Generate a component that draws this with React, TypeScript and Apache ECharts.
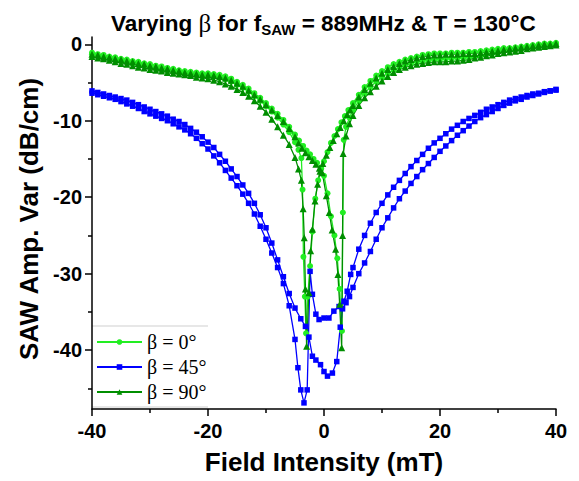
import React, { useEffect, useRef } from "react";
import * as echarts from "echarts";

// Field grid (mT) for the outer arms of each hysteresis loop
const FIELD_LEFT = [-40, -39, -38, -37, -36, -35, -34, -33, -32, -31, -30, -29, -28, -27, -26, -25, -24, -23, -22, -21, -20, -19, -18, -17, -16, -15, -14, -13, -12, -11, -10, -9, -8, -7, -6, -5];
const FIELD_RIGHT = [5, 6, 7, 8, 9, 10, 11, 12, 13, 14, 15, 16, 17, 18, 19, 20, 21, 22, 23, 24, 25, 26, 27, 28, 29, 30, 31, 32, 33, 34, 35, 36, 37, 38, 39, 40];

// ---- beta = 0 deg (light green, circles)
const B0_LEFT_LOWER = [-1.3, -1.5, -1.7, -1.8, -2.0, -2.2, -2.3, -2.5, -2.7, -2.8, -3.0, -3.1, -3.3, -3.4, -3.5, -3.7, -3.8, -3.9, -4.0, -4.1, -4.1, -4.2, -4.4, -4.6, -4.9, -5.3, -5.7, -6.2, -6.8, -7.4, -8.1, -8.8, -9.6, -10.5, -11.5, -12.8];
const B0_CENTER_UP = [[-4.4, -13.8], [-3.9, -14.9], [-3.7, -19], [-3.55, -27.8], [-3.3, -33], [-3.1, -37.8], [-2.8, -33], [-2.4, -29.0], [-2.0, -24.5], [-1.5, -20.2], [-1.0, -17.8], [-0.5, -16.3], [0, -15.3], [0.6, -14.1], [1.2, -12.9], [1.8, -12.0], [2.4, -11.1], [3.0, -10.2], [3.6, -9.4], [4.2, -8.6]];
const B0_RIGHT_UPPER = [-7.7, -6.6, -5.6, -4.8, -4.1, -3.5, -3.0, -2.6, -2.3, -2.0, -1.8, -1.6, -1.4, -1.3, -1.2, -1.2, -1.2, -1.1, -1.1, -1.1, -1.0, -1.0, -0.9, -0.8, -0.7, -0.6, -0.5, -0.5, -0.4, -0.3, -0.2, -0.1, 0.0, 0.1, 0.1, 0.2];
const B0_RIGHT_LOWER = [-8.6, -7.4, -6.4, -5.6, -4.9, -4.3, -3.8, -3.4, -3.0, -2.7, -2.5, -2.3, -2.2, -2.1, -2.0, -2.0, -1.9, -1.9, -1.8, -1.8, -1.7, -1.6, -1.5, -1.3, -1.2, -1.0, -0.9, -0.8, -0.7, -0.6, -0.5, -0.4, -0.3, -0.2, -0.1, 0.0];
const B0_CENTER_DOWN = [[4.4, -9.6], [3.8, -10.8], [3.4, -12.5], [3.25, -22], [3.1, -37.5], [2.7, -32], [2.3, -28], [1.8, -25], [1.2, -22.5], [0.6, -19.5], [0, -17.2], [-0.5, -16.2], [-1.2, -15.5], [-1.8, -15.0], [-2.4, -14.4], [-3.0, -13.9], [-3.6, -13.3], [-4.3, -12.6]];
const B0_LEFT_UPPER = [-1.1, -1.3, -1.4, -1.6, -1.7, -1.9, -2.0, -2.2, -2.3, -2.5, -2.6, -2.8, -2.9, -3.1, -3.2, -3.4, -3.5, -3.6, -3.7, -3.8, -3.8, -3.9, -4.0, -4.2, -4.5, -4.9, -5.3, -5.8, -6.4, -7.0, -7.7, -8.4, -9.1, -9.9, -10.8, -11.8];

// ---- beta = 45 deg (blue, squares)
const B45_LEFT_LOWER = [-6.4, -6.6, -6.8, -7.0, -7.2, -7.5, -7.8, -8.1, -8.4, -8.8, -9.1, -9.4, -9.7, -10.0, -10.4, -10.8, -11.2, -11.7, -12.3, -13.0, -13.7, -14.6, -15.5, -16.5, -17.5, -18.5, -19.6, -20.8, -22.2, -23.8, -25.5, -27.3, -29.2, -31.3, -34.2, -38.6];
const B45_CENTER_UP = [[-4.5, -42.3], [-4.0, -45.2], [-3.45, -46.9], [-2.9, -45.2], [-2.4, -29.7], [-2.0, -32.7], [-1.4, -35.3], [-0.85, -36.0], [0, -35.8], [0.85, -35.8], [1.7, -34.9], [2.6, -34.3], [3.45, -33.6], [4.0, -32.3], [4.6, -30.1]];
const B45_RIGHT_UPPER = [-29.2, -26.8, -25.0, -23.4, -22.0, -20.8, -19.7, -18.7, -17.8, -16.9, -16.0, -15.2, -14.4, -13.6, -12.9, -12.3, -11.7, -11.1, -10.6, -10.1, -9.7, -9.3, -8.9, -8.5, -8.2, -7.9, -7.6, -7.3, -7.1, -6.9, -6.7, -6.5, -6.4, -6.2, -6.1, -5.9];
const B45_RIGHT_LOWER = [-31.8, -30.0, -28.6, -27.1, -25.5, -24.0, -22.7, -21.4, -20.2, -19.2, -18.2, -17.3, -16.4, -15.6, -14.8, -14.0, -13.3, -12.6, -11.9, -11.3, -10.7, -10.1, -9.6, -9.2, -8.8, -8.4, -8.0, -7.7, -7.4, -7.2, -6.9, -6.7, -6.5, -6.3, -6.1, -6.0];
const B45_CENTER_DOWN = [[4.4, -33.0], [3.8, -33.8], [3.2, -34.6], [2.8, -37.0], [2.2, -41.5], [1.45, -43.0], [0.6, -43.4], [0, -42.8], [-0.6, -41.9], [-1.4, -41.3], [-2.0, -40.8], [-2.6, -38.3], [-3.2, -36.9], [-4.0, -35.9]];
const B45_LEFT_UPPER = [-6.1, -6.3, -6.5, -6.7, -6.9, -7.1, -7.3, -7.6, -7.9, -8.2, -8.5, -8.8, -9.1, -9.4, -9.8, -10.1, -10.5, -11.0, -11.5, -12.1, -12.8, -13.5, -14.4, -15.3, -16.3, -17.3, -18.4, -19.5, -20.8, -22.3, -24.0, -26.0, -28.2, -30.4, -32.6, -34.5];

// ---- beta = 90 deg (dark green, triangles)
const B90_LEFT_LOWER = [-1.6, -1.8, -1.9, -2.1, -2.3, -2.5, -2.6, -2.8, -3.0, -3.1, -3.3, -3.4, -3.5, -3.7, -3.8, -3.9, -4.0, -4.1, -4.3, -4.4, -4.5, -4.7, -4.9, -5.2, -5.5, -5.9, -6.3, -6.8, -7.4, -8.1, -8.9, -9.8, -10.8, -11.9, -13.1, -14.8];
const B90_CENTER_UP = [[-4.4, -16.3], [-3.9, -17.8], [-3.6, -21.5], [-3.4, -25.3], [-3.2, -32], [-3.0, -39.5], [-2.6, -32.5], [-2.3, -27], [-2.0, -24.2], [-1.55, -20.5], [-1.1, -18.3], [-0.7, -16.6], [-0.2, -15.6], [0.4, -14.5], [1.0, -13.5], [1.6, -12.6], [2.2, -11.7], [2.8, -10.9], [3.4, -10.0], [4.0, -9.2], [4.5, -8.6]];
const B90_RIGHT_UPPER = [-8.0, -6.9, -5.9, -5.1, -4.4, -3.8, -3.3, -2.9, -2.5, -2.2, -2.0, -1.8, -1.6, -1.5, -1.4, -1.4, -1.3, -1.3, -1.3, -1.2, -1.2, -1.2, -1.1, -1.0, -0.9, -0.8, -0.7, -0.6, -0.5, -0.4, -0.3, -0.2, -0.1, 0.0, 0.0, 0.1];
const B90_RIGHT_LOWER = [-9.3, -8.0, -7.0, -6.2, -5.5, -4.8, -4.2, -3.7, -3.3, -3.0, -2.8, -2.6, -2.5, -2.4, -2.3, -2.3, -2.3, -2.2, -2.2, -2.1, -2.0, -1.8, -1.7, -1.5, -1.4, -1.2, -1.1, -1.0, -0.9, -0.8, -0.6, -0.5, -0.4, -0.3, -0.2, -0.1];
const B90_CENTER_DOWN = [[4.4, -10.4], [3.8, -12.0], [3.3, -14.3], [3.2, -25], [3.05, -39.7], [2.7, -34], [2.4, -30.1], [2.0, -26.8], [1.4, -24.3], [0.9, -22.0], [0.4, -19.8], [-0.3, -16.8], [-0.8, -16.2], [-1.4, -15.7], [-2.0, -15.2], [-2.6, -14.7], [-3.2, -14.2], [-3.8, -13.6], [-4.4, -12.9]];
const B90_LEFT_UPPER = [-1.3, -1.4, -1.6, -1.7, -1.9, -2.0, -2.2, -2.3, -2.5, -2.6, -2.8, -2.9, -3.1, -3.2, -3.4, -3.5, -3.7, -3.8, -3.9, -4.0, -4.0, -4.1, -4.2, -4.4, -4.7, -5.1, -5.5, -6.0, -6.6, -7.2, -7.9, -8.6, -9.3, -10.1, -11.0, -12.1];

const SERIES_NAMES = ["β = 0°", "β = 45°", "β = 90°"];
const X_TICKS = { min: -40, max: 40, interval: 20 };
const Y_MAJOR = [-40, -30, -20, -10, 0];
const Y_MINOR = [-45, -35, -25, -15, -5];

function zip(xs: number[], ys: number[]) {
  return xs.map((x, i) => [x, ys[i]]);
}

function loop(leftLower: number[], centerUp: number[][], rightUpper: number[], rightLower: number[], centerDown: number[][], leftUpper: number[]) {
  const up = [...zip(FIELD_LEFT, leftLower), ...centerUp, ...zip(FIELD_RIGHT, rightUpper)];
  const down = [...zip(FIELD_RIGHT, rightLower).reverse(), ...centerDown, ...zip(FIELD_LEFT, leftUpper).reverse()];
  return [...up, ...down];
}

export default function App() {
  const ref = useRef<HTMLDivElement>(null);
  useEffect(() => {
    if (!ref.current) return;
    const chart = echarts.init(ref.current, null, { renderer: "svg" });
    const sans = "Liberation Sans, Arial, sans-serif";
    const serif = "Liberation Serif, Times New Roman, serif";
    const mk = (name: string, color: string, symbol: string, size: number, data: number[][]) => ({
      name,
      type: "line",
      data,
      xAxisIndex: 0,
      yAxisIndex: 0,
      symbol,
      symbolSize: size,
      showAllSymbol: true,
      lineStyle: { color, width: 1.3 },
      itemStyle: { color, borderWidth: 0 },
      emphasis: { disabled: true },
    });
    chart.setOption({
      animation: false,
      backgroundColor: "#ffffff",
      title: {
        text: "Varying {b|β} for f{s|SAW} = 889MHz & T = 130°C",
        left: 106,
        top: 3,
        textStyle: {
          fontFamily: sans,
          fontWeight: "bold",
          fontSize: 22.5,
          color: "#000",
          lineHeight: 30,
          rich: {
            b: { fontFamily: serif, fontWeight: "normal", fontSize: 25, color: "#000", lineHeight: 30 },
            s: { fontFamily: sans, fontWeight: "bold", fontSize: 15, color: "#000", lineHeight: 15, padding: [13, 0, 0, 0] },
          },
        },
      },
      legend: {
        data: SERIES_NAMES,
        orient: "vertical",
        left: 96,
        top: 332,
        padding: 0,
        itemGap: 5,
        itemWidth: 45,
        itemHeight: 7,
        textStyle: { fontFamily: serif, fontSize: 20, color: "#000" },
        selectedMode: false,
      },
      graphic: [
        { type: "line", shape: { x1: 92, y1: 326, x2: 208, y2: 326 }, style: { stroke: "#cfcfcf", lineWidth: 1 } },
        { type: "line", shape: { x1: 92, y1: 407, x2: 208, y2: 407 }, style: { stroke: "#cfcfcf", lineWidth: 1 } },
      ],
      grid: { left: 92, right: 23, top: 37, bottom: 72 },
      xAxis: {
        type: "value",
        min: X_TICKS.min,
        max: X_TICKS.max,
        interval: X_TICKS.interval,
        name: "Field Intensity (mT)",
        nameLocation: "middle",
        nameGap: 40,
        nameTextStyle: { fontFamily: sans, fontWeight: "bold", fontSize: 26, color: "#000" },
        axisLine: { show: true, onZero: false, lineStyle: { color: "#000", width: 1.5 } },
        axisTick: { show: true, inside: false, length: 7, lineStyle: { color: "#000", width: 1.5 } },
        minorTick: { show: true, splitNumber: 2, length: 4, lineStyle: { color: "#000", width: 1.5 } },
        axisLabel: { fontFamily: sans, fontWeight: "bold", fontSize: 20, color: "#000", margin: 12 },
        splitLine: { show: false },
        minorSplitLine: { show: false },
      },
      yAxis: [
        {
          type: "value",
          min: -47.7,
          max: 0.95,
          position: "left",
          name: "SAW Amp. Var (dB/cm)",
          nameLocation: "middle",
          nameGap: 50,
          nameTextStyle: { fontFamily: sans, fontWeight: "bold", fontSize: 26, color: "#000", padding: [0, 0, 0, 8] },
          axisLine: { show: true, onZero: false, lineStyle: { color: "#000", width: 1.5 } },
          axisTick: { show: true, inside: false, length: 7, customValues: Y_MAJOR, lineStyle: { color: "#000", width: 1.5 } },
          axisLabel: { customValues: Y_MAJOR, fontFamily: sans, fontWeight: "bold", fontSize: 20, color: "#000", margin: 10 },
          splitLine: { show: false },
        },
        {
          type: "value",
          min: -47.7,
          max: 0.95,
          position: "left",
          offset: 0,
          axisLine: { show: true, onZero: false, lineStyle: { color: "#000", width: 1.5, opacity: 0 } },
          axisTick: { show: true, inside: false, length: 4, customValues: Y_MINOR, lineStyle: { color: "#000", width: 1.5 } },
          axisLabel: { show: false },
          splitLine: { show: false },
        },
      ],
      series: [
        mk(SERIES_NAMES[0], "#22ee22", "circle", 6, loop(B0_LEFT_LOWER, B0_CENTER_UP, B0_RIGHT_UPPER, B0_RIGHT_LOWER, B0_CENTER_DOWN, B0_LEFT_UPPER)),
        mk(SERIES_NAMES[1], "#0000ff", "rect", 5.5, loop(B45_LEFT_LOWER, B45_CENTER_UP, B45_RIGHT_UPPER, B45_RIGHT_LOWER, B45_CENTER_DOWN, B45_LEFT_UPPER)),
        mk(SERIES_NAMES[2], "#008e00", "triangle", 7, loop(B90_LEFT_LOWER, B90_CENTER_UP, B90_RIGHT_UPPER, B90_RIGHT_LOWER, B90_CENTER_DOWN, B90_LEFT_UPPER)),
      ],
    });
    return () => chart.dispose();
  }, []);
  return <div ref={ref} style={{ position: "fixed", left: 0, top: 0, width: 579, height: 481 }} />;
}
